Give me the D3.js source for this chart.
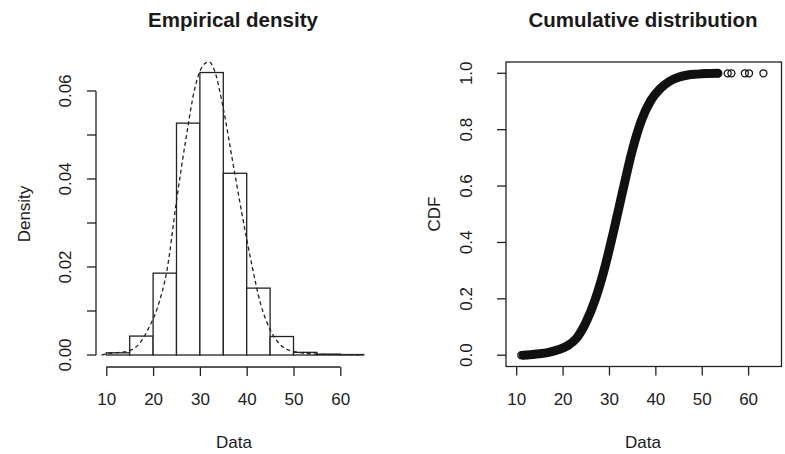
<!DOCTYPE html>
<html>
<head>
<meta charset="utf-8">
<script src="https://cdn.jsdelivr.net/npm/d3@7"></script>
<style>
  body { margin: 0; background: #fff; }
  text { font-family: "Liberation Sans", Arial, sans-serif; fill: #1a1a1a; }
</style>
</head>
<body>
<div id="chart"></div>
<script>
// histogram (breaks every 5 from 10 to 65)
const breaks = [10, 15, 20, 25, 30, 35, 40, 45, 50, 55, 60, 65]
const densities = [0.0005, 0.0043, 0.0186, 0.0527, 0.0642, 0.0413, 0.0152, 0.0042, 0.0006, 0.0002, 0.0001]

// kernel density curve
const kdeX = [9, 11, 13, 15, 17, 19, 21, 23, 25, 27, 29, 31, 32, 33, 35, 37, 39, 41, 43, 45, 47, 49, 51, 53, 55, 58, 61, 64]
const kdeY = [0, 0.0004, 0.0006, 0.001, 0.0025, 0.006, 0.011, 0.0195, 0.035, 0.049, 0.061, 0.0662, 0.0666, 0.065, 0.056, 0.044, 0.032, 0.021, 0.0115, 0.0058, 0.0025, 0.0011, 0.0006, 0.0003, 0.0002, 0.0001, 0.0001, 0]

// empirical CDF (dense part of the curve)
const cdfX = [11.5, 13, 15, 17, 19, 21, 23, 25, 27, 29, 31, 33, 35, 37, 39, 41, 43, 45, 47, 49, 51, 53.5]
const cdfY = [0, 0.002, 0.005, 0.01, 0.019, 0.033, 0.06, 0.115, 0.196, 0.305, 0.44, 0.585, 0.725, 0.833, 0.903, 0.945, 0.971, 0.986, 0.994, 0.997, 0.999, 1]

// isolated points in the tails
const tailX = [11.1, 11.6, 12.3, 13.6, 53.4, 55.6, 56.4, 59.3, 60.2, 63.3]
const tailY = [0, 0.0003, 0.0006, 0.001, 0.9995, 0.9997, 0.9998, 0.9999, 0.99995, 1]

const xTicks = [10, 20, 30, 40, 50, 60]
const densTicks = [0, 0.01, 0.02, 0.03, 0.04, 0.05, 0.06]
const densLabels = [0, 0.02, 0.04, 0.06]
const cdfTicks = [0, 0.2, 0.4, 0.6, 0.8, 1]

const width = 785, height = 454
const ink = "#222"

let svg = d3.select("#chart").append("svg")
    .attr("width", width)
    .attr("height", height)

// scales, same x limits for both panels
let xL = d3.scaleLinear().domain([7.8, 67.2]).range([96, 374])
let yL = d3.scaleLinear().domain([0, 0.06]).range([355, 91])
let xR = d3.scaleLinear().domain([7.8, 67.2]).range([506, 781.5])
let yR = d3.scaleLinear().domain([-0.04, 1.04]).range([366.5, 62])

// ---------- left panel ----------
let left = svg.append("g")

left.append("g").selectAll("rect")
    .data(densities)
    .enter().append("rect")
    .attr("x", (d, i) => xL(breaks[i]))
    .attr("width", (d, i) => xL(breaks[i + 1]) - xL(breaks[i]))
    .attr("y", d => yL(d))
    .attr("height", d => yL(0) - yL(d))
    .style("fill", "white")
    .style("stroke", ink)
    .style("stroke-width", 1.3)

let kde = kdeX.map((x, i) => [x, kdeY[i]])
left.append("path")
    .datum(kde)
    .attr("d", d3.line().x(d => xL(d[0])).y(d => yL(d[1])).curve(d3.curveMonotoneX))
    .style("fill", "none")
    .style("stroke", ink)
    .style("stroke-width", 1.3)
    .style("stroke-dasharray", "4,3")

// x axis below the plot
let axL = left.append("g")
    .attr("transform", "translate(0,367)")
    .call(d3.axisBottom(xL).tickValues(xTicks).tickSize(9).tickSizeOuter(0).tickPadding(17))
axL.select(".domain").remove()
axL.append("line")
    .attr("x1", xL(xTicks[0])).attr("x2", xL(xTicks[xTicks.length - 1]))
    .attr("stroke", ink).attr("stroke-width", 1.3)
axL.selectAll(".tick line").attr("stroke", ink).attr("stroke-width", 1.3)
axL.selectAll(".tick text").style("font-size", "17px").style("fill", ink)

// y axis
let ayL = left.append("g")
ayL.append("line")
    .attr("x1", 96).attr("x2", 96)
    .attr("y1", yL(0)).attr("y2", yL(0.06))
    .attr("stroke", ink).attr("stroke-width", 1.3)
ayL.selectAll(".tk").data(densTicks).enter().append("line")
    .attr("x1", 87).attr("x2", 96)
    .attr("y1", d => yL(d)).attr("y2", d => yL(d))
    .attr("stroke", ink).attr("stroke-width", 1.3)
ayL.selectAll("text").data(densLabels).enter().append("text")
    .attr("transform", d => `translate(70.5,${yL(d)}) rotate(-90)`)
    .attr("text-anchor", "middle")
    .style("font-size", "17px")
    .text(d => d3.format(".2f")(d))

left.append("text")
    .attr("transform", "translate(30,214) rotate(-90)")
    .attr("text-anchor", "middle")
    .style("font-size", "17px")
    .text("Density")
left.append("text")
    .attr("x", 234).attr("y", 448)
    .attr("text-anchor", "middle")
    .style("font-size", "17px")
    .text("Data")
left.append("text")
    .attr("x", 233).attr("y", 27)
    .attr("text-anchor", "middle")
    .style("font-size", "20.5px")
    .style("font-weight", "bold")
    .text("Empirical density")

// ---------- right panel ----------
let right = svg.append("g")

right.append("rect")
    .attr("x", xR.range()[0]).attr("y", yR.range()[1])
    .attr("width", xR.range()[1] - xR.range()[0])
    .attr("height", yR.range()[0] - yR.range()[1])
    .style("fill", "none")
    .style("stroke", ink)
    .style("stroke-width", 1.3)

// dense run of open circles drawn as a thick band
let cdf = cdfX.map((x, i) => [x, cdfY[i]])
right.append("path")
    .datum(cdf)
    .attr("d", d3.line().x(d => xR(d[0])).y(d => yR(d[1])).curve(d3.curveMonotoneX))
    .style("fill", "none")
    .style("stroke", "#111")
    .style("stroke-width", 9)
    .style("stroke-linecap", "round")

right.append("g").selectAll("circle")
    .data(tailX)
    .enter().append("circle")
    .attr("cx", d => xR(d))
    .attr("cy", (d, i) => yR(tailY[i]))
    .attr("r", 3.5)
    .style("fill", "none")
    .style("stroke", "#111")
    .style("stroke-width", 1.3)

let axR = right.append("g")
    .attr("transform", "translate(0,366.5)")
    .call(d3.axisBottom(xR).tickValues(xTicks).tickSize(9).tickSizeOuter(0).tickPadding(17))
axR.select(".domain").remove()
axR.selectAll(".tick line").attr("stroke", ink).attr("stroke-width", 1.3)
axR.selectAll(".tick text").style("font-size", "17px").style("fill", ink)

let ayR = right.append("g")
ayR.selectAll(".tk").data(cdfTicks).enter().append("line")
    .attr("x1", 497).attr("x2", 506)
    .attr("y1", d => yR(d)).attr("y2", d => yR(d))
    .attr("stroke", ink).attr("stroke-width", 1.3)
ayR.selectAll("text").data(cdfTicks).enter().append("text")
    .attr("transform", d => `translate(471.5,${yR(d)}) rotate(-90)`)
    .attr("text-anchor", "middle")
    .style("font-size", "17px")
    .text(d => d3.format(".1f")(d))

right.append("text")
    .attr("transform", "translate(440,214) rotate(-90)")
    .attr("text-anchor", "middle")
    .style("font-size", "17px")
    .text("CDF")
right.append("text")
    .attr("x", 643).attr("y", 448)
    .attr("text-anchor", "middle")
    .style("font-size", "17px")
    .text("Data")
right.append("text")
    .attr("x", 643).attr("y", 27)
    .attr("text-anchor", "middle")
    .style("font-size", "20.5px")
    .style("font-weight", "bold")
    .text("Cumulative distribution")
</script>
</body>
</html>
